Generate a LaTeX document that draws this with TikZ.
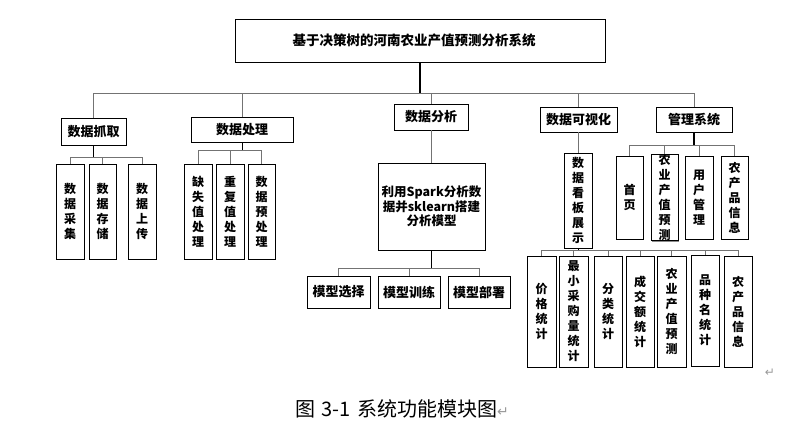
\documentclass[tikz,border=0pt]{standalone}
\usepackage{fontspec}
\newfontfamily\cjk{Noto Sans CJK SC}
\newfontfamily\dejavu{DejaVu Sans}
\usetikzlibrary{shadows,calc}
\begin{document}
\begin{tikzpicture}[x=1pt,y=-1pt,
 box/.style={draw=black,line width=0.8pt,fill=white,inner sep=0pt,align=center,
   drop shadow={shadow xshift=1.3pt,shadow yshift=-1.3pt,fill=black!45,opacity=1},
   font=\cjk\bfseries\fontsize{13}{15}\selectfont},
 vbox/.style={box,font=\cjk\bfseries\fontsize{12}{15}\selectfont},
 conn/.style={draw=black!55,line width=0.9pt},
 stem/.style={draw=black,line width=1pt},
]
\useasboundingbox (0,0) rectangle (795,423);
% top
\node[box,minimum width=370pt,minimum height=43pt,font=\cjk\bfseries\fontsize{13.5}{15}\selectfont] (top) at (420,40.5) {基于决策树的河南农业产值预测分析系统\hspace*{12pt}};
% level 1
\node[box,minimum width=65pt,minimum height=27pt] (a1) at (93.5,131.5) {数据抓取};
\node[box,minimum width=102pt,minimum height=25pt] (a2) at (242,129.5) {数据处理};
\node[box,minimum width=74pt,minimum height=26pt] (a3) at (431,117) {数据分析};
\node[box,minimum width=77pt,minimum height=25pt] (a4) at (578.5,119.5) {数据可视化};
\node[box,minimum width=76pt,minimum height=25pt] (a5) at (694,119.5) {管理系统};
% a1 children
\node[vbox,minimum width=28pt,minimum height=95pt] (b11) at (70,211.5) {数\\据\\采\\集};
\node[vbox,minimum width=27pt,minimum height=95pt] (b12) at (102.5,211.5) {数\\据\\存\\储};
\node[vbox,minimum width=28pt,minimum height=95pt] (b13) at (142,211.5) {数\\据\\上\\传};
% a2 children
\node[vbox,minimum width=28pt,minimum height=95pt] (b21) at (198,211.5) {缺\\失\\值\\处\\理};
\node[vbox,minimum width=28pt,minimum height=95pt] (b22) at (230,211.5) {重\\复\\值\\处\\理};
\node[vbox,minimum width=27pt,minimum height=95pt] (b23) at (261.5,211.5) {数\\据\\预\\处\\理};
% a3 children
\node[box,minimum width=107pt,minimum height=87pt,font=\cjk\bfseries\fontsize{12.5}{14.5}\selectfont] (c) at (431.5,206.5) {利用Spark分析数\\据并sklearn搭建\\分析模型};
\node[box,minimum width=63pt,minimum height=32pt] (m1) at (338.5,292) {模型选择};
\node[box,minimum width=62pt,minimum height=32pt] (m2) at (409,292) {模型训练};
\node[box,minimum width=62pt,minimum height=32pt] (m3) at (479,292) {模型部署};
% a4 children
\node[vbox,minimum width=28pt,minimum height=95pt] (d) at (578,200.5) {数\\据\\看\\板\\展\\示};
\node[vbox,minimum width=29pt,minimum height=111pt] (e1) at (541.5,311.5) {价\\格\\统\\计};
\node[vbox,minimum width=29pt,minimum height=111pt] (e2) at (573.5,311.5) {最\\小\\采\\购\\量\\统\\计};
\node[vbox,minimum width=28pt,minimum height=111pt] (e3) at (608,311.5) {分\\类\\统\\计};
\node[vbox,minimum width=28pt,minimum height=111pt] (e4) at (640,311.5) {成\\交\\额\\统\\计};
\node[vbox,minimum width=29pt,minimum height=111pt] (e5) at (671.5,311.5) {农\\业\\产\\值\\预\\测};
\node[vbox,minimum width=28pt,minimum height=111pt] (e6) at (705,310.5) {品\\种\\名\\统\\计};
\node[vbox,minimum width=28pt,minimum height=111pt] (e7) at (738,311.5) {农\\产\\品\\信\\息};
% a5 children
\node[vbox,minimum width=27pt,minimum height=83pt] (f1) at (629.5,197.5) {首\\页};
\node[vbox,minimum width=27pt,minimum height=83pt] (f2) at (664.5,197.5) {农\\业\\产\\值\\预\\测};
\node[vbox,minimum width=28pt,minimum height=83pt] (f3) at (699,197.5) {用\\户\\管\\理};
\node[vbox,minimum width=27pt,minimum height=83pt] (f4) at (734.5,197.5) {农\\产\\品\\信\\息};
% connectors
\coordinate (bus0) at (0,93);
\draw[stem,line width=1.5pt] (top.south) -- (top.south|-bus0);
\foreach \n in {a1,a2,a3,a4,a5} \draw[conn] (top.south|-bus0) -| (\n.north);
\coordinate (bus1) at (0,157);
\draw[stem] (a1.south) -- (a1.south|-bus1);
\foreach \n in {b11,b12,b13} \draw[conn] (a1.south|-bus1) -| (\n.north);
\coordinate (bus2) at (0,150);
\draw[stem] (a2.south) -- (a2.south|-bus2);
\foreach \n in {b21,b22,b23} \draw[conn] (a2.south|-bus2) -| (\n.north);
\draw[conn] (a3.south) -- (a3.south|-c.north);
\coordinate (bus3) at (0,268);
\draw[stem] (c.south) -- (c.south|-bus3);
\foreach \n in {m1,m2,m3} \draw[conn] (c.south|-bus3) -| (\n.north);
\draw[conn] (a4.south) -- (a4.south|-d.north);
\coordinate (bus4) at (0,250);
\draw[stem] (d.south) -- (d.south|-bus4);
\foreach \n in {e1,e2,e3,e4,e5,e6,e7} \draw[conn] (d.south|-bus4) -| (\n.north);
\coordinate (bus5) at (0,145);
\draw[stem,line width=1.5pt] (a5.south) -- (a5.south|-bus5);
\foreach \n in {f1,f2,f3,f4} \draw[conn] (a5.south|-bus5) -| (\n.north);
% paragraph mark and caption
\node[font=\dejavu\fontsize{12}{12}\selectfont,text=black!40,inner sep=0pt] (pm) at (770,373) {↵};
\node[font=\cjk\fontsize{20}{21}\selectfont,inner sep=0pt] (cap) at (402,409) {图\hspace{6pt}3-1\hspace{7pt}系统功能模块图{\dejavu\fontsize{14}{14}\selectfont\color{black!40}↵}};
\end{tikzpicture}
\end{document}
